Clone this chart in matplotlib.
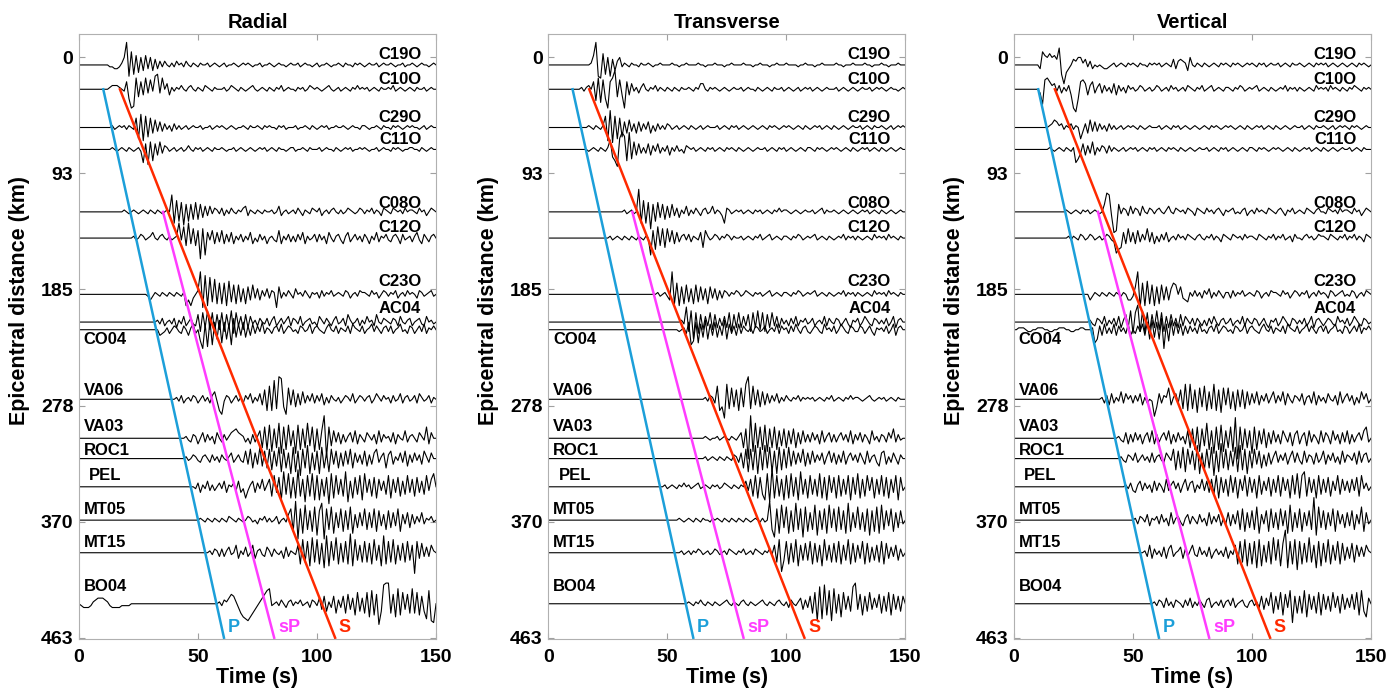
import numpy as np
import matplotlib.pyplot as plt

plt.rcParams['font.family'] = ['Liberation Sans', 'DejaVu Sans']
plt.rcParams['font.weight'] = 'bold'

stations = ["C19O", "C10O", "C29O", "C11O", "C08O", "C12O", "C23O", "AC04",
            "CO04", "VA06", "VA03", "ROC1", "PEL", "MT05", "MT15", "BO04"]
distance = [6.1, 25.5, 56.0, 73.5, 123.3, 144.2, 189.1, 211.2,
            217.3, 272.8, 303.9, 320.1, 342.6, 369.2, 395.2, 435.9]

# seismograms: one letter per second from 0 s,
# 'm' is the baseline, each letter step is 1.5 km on the distance axis
radial = [
    "mmmmmmmmmm mmmllkklnq ygthriqjrk qjpkolomln lomnlomlnm lnmmnlmnml mnlmmnmlmn mnmlmmnlmm nmlmnmmlmn mmnlmnmmlm nlmmnmlmmn mlnmmlnmnm lmnmmnlmnm mnmlmmnlmm nmlmnmmlmn",
    "mmmmmmmmmm mmmnooonml qhcdsiqjsk rltuksmpjn lnmomlnoml nmlonmlnmm mnlmonmlnm lmnomlmnml nmlnmolmnm mlnmnlmonm nmlmnomlmn lmnmlnmomn mnlmnmlnmm nmolmnmlmn mlnmmnlmnm",
    "mmmmmmmmmm mmmmnlmnmn lnmlrgtfsh rjqkpkolnk olnlmnlmnm mnlmmnlmnm nmlmnmlmmn mlnmmnmlnm nmmlnmnlmm mnlmmnmlnm lmnmnlmmnm mnmlmnmmln nmlmmnmlnm mlnmnmlmnm nmmlmnlmnm",
    "mmmmmmmmmm mmmmnmlmnm lnmlmnlfpe qgpjqkonlm nlmnlmomln mnlmnmlnmm nmlmmnlmnm lmnmlmnmnl mnmlnmmlmn nlmmnmlnmm mnlmnmmlnm lmnmnlmmnm nmlmmnlmnm mlnmnmlmmn nmmlnmlmnm",
    "mmmmmmmmmm mmmmmmmmmn mlmnmlmnml nmlnmlmnmv gshrfqhqir iqjpkplonl oknlomlnmo pknmlnmlnm mnlmpkmnlm nlomknmlon mokmnlnoml nlmonmlmon lnmolnmkon mlonmnlomn nmlomnkmon",
    "mmmmmmmmmm mmmmmmmmmm mmmnlmonlm npmlnomlnl mnulsiujri qbrdplqjpk qjokpjnlok nlpjmkolnj mnlkqjnlok nkolpjnlmo kolnjpmkno ljnpkmolnk omjnlpknmo lknomjolmn knpljomkno",
    "mmmmmmmmmm mmmmmmmmmm mmmmmmmmml jlnmlnmlnm lnmlngjgkm oyfwgviuhs hsgtirhrip hqjrkpjolp konfqknlom kpmnlomknm nkolnmolmn mlonkmnlon nmlomnkmon lnmokmnlom nmkonlmnol",
    "mmmmmmmmmm mmmmmmmmmm mmmmmmmmmm mmmnlokmnl ojnlpkmolk qhrjsirhqi rhqjsgrkpi qjplnkomlo knpkmolnpk onlpkmnolm kpnlomknpl mokqnlmokn lpmnkqmlon mlonkpmlno kmnolkpmnl",
    "mmmmmmmmmm mmmmmmmmmm mmmmmmmmmm mmmmjklnkm onlkomjnpk mgcpdreqhr fqhpesipjq iojpkolqkn mknolpkmon lmkonlmpkn omlknpmlok nmlokpnmlo kmnplomkno lokmnplmko nkmolpknmo",
    "mmmmmmmmmm mmmmmmmmmm mmmmmmmmmm mmmmmmmmmm mnlokmnlon kmolnkoqlg elonkmolnk ompknlpjrg tgwhyxiesj ripjqkolpk olpjnkomln kmonlpkmon lnokmpnlom nkolmpknol mokpnlmokn",
    "mmmmmmmmmm mmmmmmmmmm mmmmmmmmmm mmmmmmmmmm mmmmmnlkon jmpkolnjpm kolnpqrpon kmjoknqhsg tfrhuesgti qetgrhuisf rgqycsiqkp joknpkqjom kpnlojqkom nkpjomlqkn omkpnlsjpm",
    "mmmmmmmmmm mmmmmmmmmm mmmmmmmmmm mmmmmmmmmm mmmmmnlmon lknomkolnk omlnpkmolk qjrhpjsiqh rgqisfrhpe sfqdrhtepg qeshpfrjqh piqjrhpkoj qiojprknph oqjnlpkqio kplojqnkpm",
    "mmmmmmmmmm mmmmmmmmmm mmmmmmmmmm mmmmmmmmmm mmmmmmmmml ojnlpknkmo lpjnmokpjl gknpjolqkn qhsjrfuitg rgvhqeshtf sfqhrdtgsi qhuepgrisf tjqhrgqkpi sgqjrhpisj qhrjpiskqt",
    "mmmmmmmmmm mmmmmmmmmm mmmmmmmmmm mmmmmmmmmm mmmmmmmmmm mnmlnmlnml nmlonmlnml monlmknmol nlmokmnlps gwcsfuhrgt ervcshtfqi sgrhtfpiqj shqisgrjph riqjsgpkqi pkolqknmol",
    "mmmmmmmmmm mmmmmmmmmm mmmmmmmmmm mmmmmmmmmm mmmmmmmmmm mmmmmnlonk oknplmqjnl pkmqjnolkp nkomlnjpkn mlqgthsfuh tgrevfsiug rhsgwftiqh shrgtiqfvg shtgqirhsi qbsjrkpkqn",
    "mlkkklnopp ponlkkkkll llmmmmmmmm mmmmmmmmmm mmmmmmmmmm mmmmmmmmmn lonprqnkhf edfhjlnprt ulmnlomkno lnmolmnkon lpjqinkqho kqhrjpgsip hsftgrbiwx xhrfugsjrh uhsgqietdc",
]

transverse = [
    "mmmmmmmmmm mmmmmmmmnr ygfshqgpjo qlnmlnmmln mmnmlmmnmm mmnmmlmmnm mmmnmmlmmm nmmmlmmnmm mmnmmmlmmn mmmlmmnmmm nmmmmlmmnm mmlmmnmmmm mnmmlmmmnm mmmnmmlmmm nmmlmmmnmm",
    "mmmmmmmmmm mmmmnlnomq gsfrhcqswi rjcqjplnkn pmlnmolnml nmlnmlnmmn mlnmppmlnm nmlmnmlmnm mnlmnmmlnm lmnmlnmmnl mnmlmnlmnm nlmnmlmnmm mnlmnmlmnm lmnmmnlmnm nmlmnmmlmn",
    "mmmmmmmmmm mmmmmmmnml nmlnsfvesg rhpjqkojpk olpjnkolnl onlmnlmnml nmlmnlmnmm mnlmnmlnmn lmnmlmnmlm nmlnmnmlmn mnmlmnmlnm lmnmnlmnml nmlmnmlmnm mnlmnmlnmm nmlmnlmnmn",
    "mmmmmmmmmm mmmmmmmlmn mlnmlnrigd svtgvhqjpk nkpjolpknl ojnlolmkon mnlmnmlnmn lmnmlnmnml nmlmnmlmnm mnlmnmlnmn lmnmlmnmln nmlnmnmlmn mnmlmnmlnm lmnmnlmnml nmlmnmlmnm",
    "mmmmmmmmmm mmmmmmmmmm mmmmmmmmmm mmnlmnlmyg sgrdqhrjqi pjqkojnlpk nlomknolmp lnmkgonlmn mnlmnmlnmn lmnmlnmomn nmlmnmlmnm mnlmnolnmm nmlmnmlmnm lmnmnlmnml nmlmnmlmnm",
    "mmmmmmmmmm mmmmmmmmmm mmmmmmnlmn mlnmlnmlnm lnmdqgsirh rkqjpknolo knmlphqnlm onlnmonlnm mnlmnmlnmo lmnolmnmln nmlnmonlmn mnolmnmlnm lmnmolnmnl nmlmnmlomn mnlomnmlnm",
    "mmmmmmmmmm mmmmmmmmmm mmmmmmmmmm mmmmmmmmmm mmmmmmnlmn ljyhsgqhri phriqjphqk pjokonlnmo nlmonmlnmn lmnolmnmln nmlnmonlmn mnolmnmlnm lmnmolnmnl nmlmnmlomn mnlomnmlnm",
    "mmmmmmmmmm mmmmmmmmmm mmmmmmmmmm mmmmmmmmmm mmmmmmmmmm mmmmmmnluh sdrgqipkri qjokpjrhqj rjpkqhrjsi rhqjrkpjol nkolpknmol mokmnlpkom lonkmoljnm okmpnlkonl nlokmpjnom",
    "mmmmmmmmmm mmmmmmmmmm mmmmmmmmmm mmmmmmmmmm mmmmmmmmmm mmmmmlmnkq egqfpirhpj qiojrhpkoj pkomlnkonl mokmnlpkom nkolpmknol kmonlkpmnl okmpnlkonl lonkmoljnm nlokmpjnom",
    "mmmmmmmmmm mmmmmmmmmm mmmmmmmmmm mmmmmmmmmm mmmmmmmmmm mmmmmmmmmm mmmmmmnlon ktgicuhsir gsiuyhtjri qjpkolpknl omlnmolnmn mnlmnmlnmo lmnmlnmomn nmlmnomlmn mnlmnmlnmm",
    "mmmmmmmmmm mmmmmmmmmm mmmmmmmmmm mmmmmmmmmm mmmmmmmmmm mmmmmmmmmm mmmmmmnmlm mnlmnmlnml nphrbyfuhs gtfrhsgqir hqjrhpjqko kplojqknpk oknplokqjo lpkomjqlnk onkpmrkolm",
    "mmmmmmmmmm mmmmmmmmmm mmmmmmmmmm mmmmmmmmmm mmmmmmmmmm mmmmmmmmmm mmmmmmnlmn mlnmlnmlon kphrfrgtes gthsfqesgr hsiqjpkrip jqkolpjnqk pjokqjnplo kpmjqknoki pqjnkpmjom",
    "mmmmmmmmmm mmmmmmmmmm mmmmmmmmmm mmmmmmmmmm mmmmmmmmmn lmnmlnmomn lmnolmnmln mnlmonmlnm lnmpkqhsgr iftewgshqf sgthrfuiqg siqhtgrfsj rgshqisfri tgqhskrgqi shrgqjsfrk",
    "mmmmmmmmmm mmmmmmmmmm mmmmmmmmmm mmmmmmmmmm mmmmmmmmmm mmmmmnmlmn mlnmlnmmln mnmlnmlnml nmlnmlmnml nlmwhdsfui tfrgvhsdtg qhuerhsfui sgthrfvgqi thqgsergtf uhrjsgqirk",
    "mmmmmmmmmm mmmmmmmmmm mmmmmmmmmm mmmmmmmmmm mmmmmmmmmm mmmmmmnlmn lnmonlmnlm onlmnlonml nmolmnlonm lnmolqhtci sgrhtfqiri sgrhqftiqh rhsgqitgrh qjsgrhpiqh sgrjpkqiok",
    "mmmmmmmmmm mmmmmmmmmm mmmmmmmmmm mmmmmmmmmm mmmmmmmmmm mmmmmmmmmn mlnmomlnml nmlmnomlnm lnomlnmlmn omlnmlnoml nkomlnpjok qhsdvewgtd uhrfsjqivx jrgqisjpkr hqisgrjqiq",
]

vertical = [
    "mmmmmmmmmm mktrqsqrpv hcikmpoqqn plokmlmlkk lmnlmnmlnm nmlnmmlnmn mnlmnmlpko ponjqmlnml nmlmnmlnmn mlnmnmlmnm nmlnmnlmnm mnlmnmlnmm nmlmnmlnmn mnlmnmlmnm lmnmlnmnml",
    "mmmmmmmmmm mkersqoplo knlojcahqr pjoqknpkol nkpjolnkom nlmonlmnlm onlmnlomnl mnlonmlnmo lmnolmnmln nmlnmonlmn mnolmnmlnm lmnmolnmnl nmlmnmlomn mnlomnmlnm lnmonmlnmn",
    "mmmmmmmmmm mmmmmnoqpn olnmolnmgk ojqkpkolnk olnlmnlmnm nmlnmlmnmm mnlmnmlnmn lmnmlmnmlm nmlnmnmlmn mnmlmnmlnm lmnmnlmnml nmlmnmlmnm mnlmnmlnmm nmlmnlmnmn mlnmnmlmnm",
    "mmmmmmmmmm mmmmmnmlmn mlnmlnfhkp jokqjnlonk olnmlmnlmn mnlmnmlnmn lmnmlnmnml nmlmnmlmnm mnlmnmlnmn lmnmlmnmln nmlnmnmlmn mnmlmnmlnm lmnmnlmnml nmlmnmlmnm mnlmnmlnmm",
    "mmmmmmmmmm mmmmmmmmmm mmnmlmnmln mnlmnmlmqw vkbcqlonkp lonkpmlonl nomlnpmlon mnlonmkonm lomnlnomkn mnolmlnokm nlomnmlonm lnomknmolm nmlonmlnom mlonmnlomn nmlomnkmon",
    "mmmmmmmmmm mmmmmmmmmm mmmnlnmlon lmonlmnlmo nlkeghpjrk pjqkolrkpj nkolpkmnlo mnlonmlnom lnmolnmkon mlonmnlomn nmlonmlnmo lnmolmnkom mlnomnlmon nmlonmlnmo lnmolnmkon",
    "mmmmmmmmmm mmmmmmmmmm mmmmmmmmmm mmjlnmlnml nmlnmlnmjj lqyfsgthrg qhrjqjpsrm qkjinlolnk ompknlomkn nkolnmolmn mlonkmnlon nmlomnkmon lnmokmnlom nmkonlmnol mlonkmnlon",
    "mmmmmmmmmm mmmmmmmmmm mmmmmmmmmm mmnlkonlpk nlokpjnqjs grvhsgrhqj sirhpjqkoj qkpnlokomk nkolpmknol mokmnlpkom lonkmoljnm okmpnlkonl nlokmpjnom kmonlkpmnl okmpnlkonl",
    "mmnnnmllmm nnnmmllmmn nnmmllmmnn mmmnfhojpk nkpjolnkpj mkolpjqhri qhscpgrjqk pjokolnkpl mknolpkmon lmkonlmpkn omlknpmlok nmlokpnmlo kmnplomkno lokmnplmko nkmolpknmo",
    "mmmmmmmmmm mmmmmmmmmm mmmmmmmmmm mmmmmmmnko jpknlqkpmo kolpjnkmld ipkonsjnpk rhuguhrfsi tgqhugrfsj shqgrirhqj pkqjolpknq kolqjpmkon lpjnokqjol nkpmlojqkn plojnkqmpk",
    "mmmmmmmmmm mmmmmmmmmm mmmmmmmmmm mmmmmmmmmm mmmmnlkpjo kplojnpkqj oknplqjokp lnjqhrgsfr iugqesgtfq hsfxbsgrhq esgqjrhpjq kojqnkpioq jnpiqkomjq kpnjqlojpk qjoknplqsk",
    "mmmmmmmmmm mmmmmmmmmm mmmmmmmmmm mmmmmmmmmm mmmmmnlkon lpkmolnkpk nolkpnlrgq hsfrjqgtep grhsdqfuhr gqisftgreq hrjqhoipjn qkolpjnqkp ljqkonjpkm qjolpknjqk onlpjqkopk",
    "mmmmmmmmmm mmmmmmmmmm mmmmmmmmmm mmmmmmmmmm mmmmmmmnlo kjnpkolnjp komjqknplo jnqkopjnlq kpjqisgrjq hsjrgqkshr jqgsipkrhq jshrkqgsit gsuhrjqgsi qjrhpksiqk pjqkrhslok",
    "mmmmmmmmmm mmmmmmmmmm mmmmmmmmmm mmmmmmmmmm mmmmmmmmmm mnkonlpjnm okplnjqkno ljnpkomkpl njqkolpjnk qjpkrhsgqi rhtfpkrgsi qhsjrfugqi sgqjrhyeti rhqjsgrkpi qjrhpktgqk",
    "mmmmmmmmmm mmmmmmmmmm mmmmmmmmmm mmmmmmmmmm mmmmmmmmmm mmmmmnkqjo lnkpjoqkmn pjoknqlkpl nkpjmolnkp jnlqgshtfr gsetfqhsgu itfryesgtd sgrhuhqesf rhtgqisgri pjrhqkpkqn",
    "mmmmmmmmmm mmmmmmmmmm mmmmmmmmmm mmmmmmmmmm mmmmmmmmmm mmmmmmmmmn lonkplnkon mkolpknlom kopkmnlokn olpkmnolkn olnkqjplsh qjsgrktcqh qhtfrjqhsg rjqiskqhrj pkrjsgtifp",
]

titles = ["Radial", "Transverse", "Vertical"]

# travel time lines: (times in s, distances in km)
phase_names = ["P", "sP", "S"]
phase_times = [[10.2, 60.9], [35.3, 82.0], [17.2, 107.6]]
phase_dists = [[25.5, 463], [123.3, 463], [25.5, 463]]
phase_colors = ["#1c9fd9", "#ff3dff", "#ff2a00"]

# station name offsets (km) from the trace
label_dy = [-8.5, -8, -8, -8.2, -7, -8.5, -10.4, -11,
            7.5, -7, -9, -6.5, -9, -8.5, -8.5, -14]

dist_ticks = np.linspace(0, 463, 6)

fig = plt.figure(figsize=(13.98, 6.95), dpi=100)
lefts = [0.0565, 0.3922, 0.7253]

for k, comp in enumerate([radial, transverse, vertical]):
    ax = fig.add_axes([lefts[k], 0.0806, 0.2554, 0.8705])

    for i in range(len(stations)):
        s = comp[i].replace(" ", "")
        amp = np.array([ord(c) - ord("m") for c in s], dtype=float)
        if len(amp) < 151:
            amp = np.concatenate([amp, np.zeros(151 - len(amp))])
        amp = amp[:151]
        t = np.arange(151)
        ax.plot(t, distance[i] - 1.5 * amp, color="black", lw=0.8, zorder=2)

        if i < 8:
            ax.text(143.8, distance[i] + label_dy[i], stations[i], ha="right",
                    va="center", fontsize=12, fontweight="bold")
        else:
            x = 4.3 if stations[i] == "PEL" else 2.0
            ax.text(x, distance[i] + label_dy[i], stations[i], ha="left",
                    va="center", fontsize=12, fontweight="bold")

    for name, tt, dd, col in zip(phase_names, phase_times, phase_dists, phase_colors):
        ax.plot(tt, dd, color=col, lw=1.8, zorder=3)
        ax.text(tt[1] + 1.6, 455, name, color=col, fontsize=13,
                fontweight="bold", va="center", ha="left")

    ax.set_xlim(0, 150)
    ax.set_ylim(464, -18.6)
    ax.set_xticks([0, 50, 100, 150])
    ax.set_yticks(dist_ticks)
    ax.set_yticklabels([str(int(round(v))) for v in dist_ticks])
    ax.tick_params(direction="in", length=4, width=0.8, color="#a0a0a0",
                   top=True, right=True, labelsize=14)
    ax.tick_params(axis="x", pad=7)
    ax.tick_params(axis="y", pad=4)
    for sp in ax.spines.values():
        sp.set_color("#b0b0b0")
        sp.set_linewidth(0.8)

    ax.set_title(titles[k], fontsize=14.5, fontweight="bold", pad=4)
    ax.set_xlabel("Time (s)", fontsize=15.5, fontweight="bold", labelpad=1)
    ax.set_ylabel("Epicentral distance (km)", fontsize=15.5, fontweight="bold")
    ax.yaxis.set_label_coords(-0.137, 0.56)

fig.savefig("out.png", dpi=100)
